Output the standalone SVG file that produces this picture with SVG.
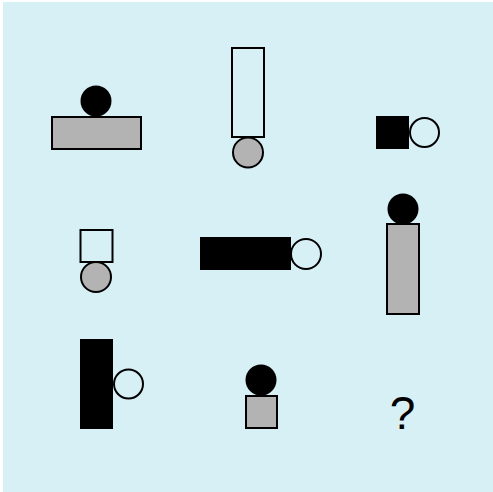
<svg xmlns="http://www.w3.org/2000/svg" width="493" height="492" viewBox="0 0 493 492">
<style>
.g{fill:#b3b3b3;stroke:#000;stroke-width:2}
.w{fill:none;stroke:#000;stroke-width:2}
.b{fill:#000;stroke:none}
.t{font-family:"Liberation Sans",Arial,sans-serif;font-size:46px;fill:#000}
</style>
<rect x="3" y="2" width="490" height="490" fill="#d7f0f5"/>
<g id="cell1"><rect class="g" x="52" y="117" width="89" height="32"/><circle class="b" cx="96" cy="101" r="15.5"/></g>
<g id="cell2"><rect class="w" x="232" y="48" width="32" height="89"/><circle class="g" cx="248" cy="152.5" r="15"/></g>
<g id="cell3"><rect class="b" x="376" y="116" width="33" height="33"/><circle class="w" cx="424.5" cy="132.5" r="14.5"/></g>
<g id="cell4"><rect class="w" x="80.5" y="230" width="32" height="32"/><circle class="g" cx="96" cy="277" r="15"/></g>
<g id="cell5"><rect class="b" x="200" y="237" width="91" height="33"/><circle class="w" cx="306" cy="254" r="15"/></g>
<g id="cell6"><rect class="g" x="387" y="224" width="32" height="90"/><circle class="b" cx="403" cy="209" r="15.5"/></g>
<g id="cell7"><rect class="b" x="80" y="339" width="33" height="90"/><circle class="w" cx="128.5" cy="384" r="14.5"/></g>
<g id="cell8"><rect class="g" x="246" y="396" width="31" height="32"/><circle class="b" cx="261" cy="380" r="15.5"/></g>
<g id="cell9"><text class="t" x="402.5" y="429" text-anchor="middle">?</text></g>
</svg>
